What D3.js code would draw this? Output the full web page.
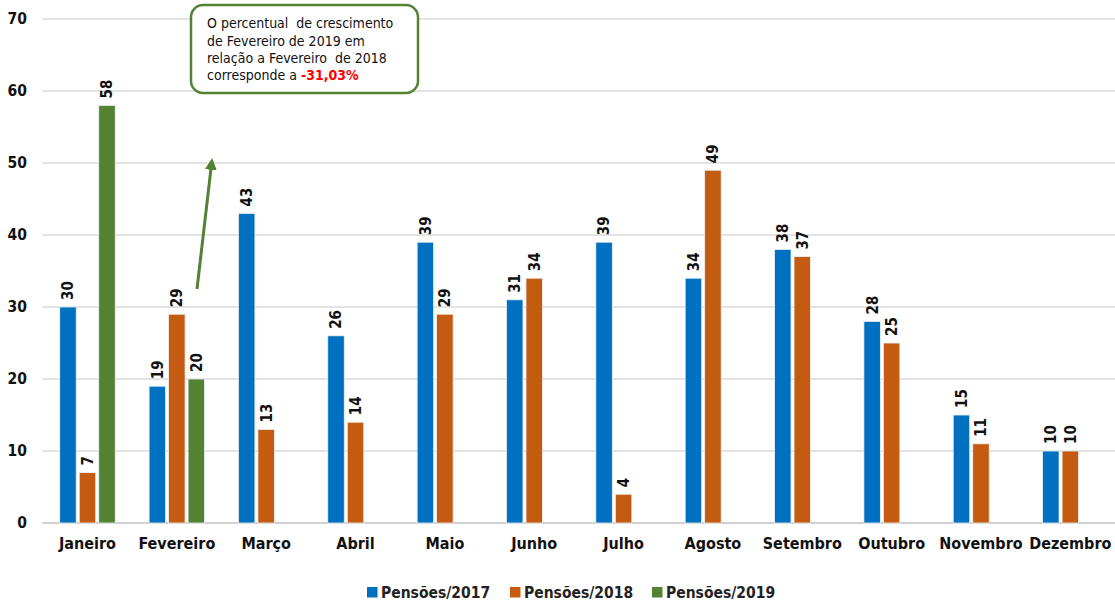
<!DOCTYPE html>
<html><head><meta charset="utf-8">
<script src="https://cdn.jsdelivr.net/npm/d3@7"></script>
<style>
body{margin:0;background:#fff;}
svg{display:block;font-family:"DejaVu Sans Condensed","DejaVu Sans",sans-serif;}
</style></head>
<body>
<svg id="c" width="1115" height="600"></svg>
<script>
const months = ["Janeiro","Fevereiro","Março","Abril","Maio","Junho","Julho","Agosto","Setembro","Outubro","Novembro","Dezembro"];
const seriesNames = ["Pensões/2017","Pensões/2018","Pensões/2019"];
const values2017 = [30,19,43,26,39,31,39,34,38,28,15,10];
const values2018 = [7,29,13,14,29,34,4,49,37,25,11,10];
const values2019 = [58,20,null,null,null,null,null,null,null,null,null,null];
const colors = ["#0070C0","#C55A11","#548235"];
const yTicks = [0,10,20,30,40,50,60,70];
const noteLines = ["O percentual  de crescimento","de Fevereiro de 2019 em","relação a Fevereiro  de 2018"];
const noteLast = "corresponde a ";
const noteValue = "-31,03%";

const svg = d3.select("#c");
const x0 = d3.scaleBand().domain(months).range([42.8,1115]).paddingInner(0).paddingOuter(0);
const y = d3.scaleLinear().domain([0,70]).range([523,19]);
const groupW = 55.5;
const x1 = d3.scaleBand().domain(seriesNames).range([0,groupW]).paddingInner(0.154);
const groupOffset = (x0.bandwidth()-groupW)/2;

// gridlines
svg.append("g").selectAll("line").data(yTicks).join("line")
  .attr("x1",42.3).attr("x2",1115)
  .attr("y1",d=>y(d)).attr("y2",d=>y(d))
  .attr("stroke",d=>d===0?"#d0d0d0":"#dadada").attr("stroke-width",d=>d===0?2:1.3);

// y axis labels
const yAxis = d3.axisLeft(y).tickValues(yTicks).tickSize(0).tickPadding(0);
const ya = svg.append("g").attr("transform","translate(27,0)").call(yAxis);
ya.select(".domain").remove();
ya.selectAll("text").attr("font-size",15.5).attr("font-weight","bold").attr("fill","#111")
  .attr("font-family","'DejaVu Sans Condensed','DejaVu Sans',sans-serif");

// x axis labels
const xAxis = d3.axisBottom(x0).tickSize(0).tickPadding(0);
const xa = svg.append("g").attr("transform","translate(0,537.5)").call(xAxis);
xa.select(".domain").remove();
xa.selectAll("text").attr("font-size",16).attr("font-weight","bold").attr("fill","#111")
  .attr("font-family","'DejaVu Sans Condensed','DejaVu Sans',sans-serif");

const allSeries = [values2017, values2018, values2019];
const data = [];
months.forEach((m,i)=>{
  allSeries.forEach((s,j)=>{
    if(s[i]!==null && s[i]!==undefined) data.push({m, s:seriesNames[j], v:s[i], c:colors[j]});
  });
});

const bars = svg.append("g");
bars.selectAll("rect").data(data).join("rect")
  .attr("x",d=>x0(d.m)+groupOffset+x1(d.s))
  .attr("width",x1.bandwidth())
  .attr("y",d=>y(d.v))
  .attr("height",d=>y(0)-y(d.v))
  .attr("fill",d=>d.c)
  .attr("stroke","#eef2f6").attr("stroke-width",0.8);

bars.selectAll("text").data(data).join("text")
  .attr("transform",d=>{
    const cx = x0(d.m)+groupOffset+x1(d.s)+x1.bandwidth()/2;
    return `translate(${cx},${y(d.v)-7}) rotate(-90)`;
  })
  .attr("dy","0.36em")
  .attr("text-anchor","start")
  .attr("font-size",15).attr("font-weight","bold").attr("fill","#111")
  .text(d=>d.v);

// annotation box
const note = svg.append("g");
note.append("rect").attr("x",191).attr("y",5).attr("width",227).attr("height",88)
  .attr("rx",12).attr("ry",12).attr("fill","#fff").attr("stroke","#548235").attr("stroke-width",2.5);
noteLines.forEach((t,i)=>{
  note.append("text").attr("x",207).attr("y",28.3+i*17.2).attr("font-size",14).attr("fill","#111")
    .style("white-space","pre").text(t);
});
const lt = note.append("text").attr("x",207).attr("y",28.3+3*17.2).attr("font-size",14).attr("fill","#111")
  .style("white-space","pre");
lt.append("tspan").text(noteLast);
lt.append("tspan").attr("fill","#ff0000").attr("font-weight","bold").text(noteValue);

// arrow
const defs = svg.append("defs");
defs.append("marker").attr("id","ah").attr("viewBox","0 0 10 10").attr("refX",7).attr("refY",5)
  .attr("markerWidth",4).attr("markerHeight",4).attr("orient","auto")
  .append("path").attr("d","M0,0 L10,5 L0,10 Z").attr("fill","#548235");
svg.append("line").attr("x1",197).attr("y1",289).attr("x2",211.8).attr("y2",161.5)
  .attr("stroke","#548235").attr("stroke-width",3).attr("marker-end","url(#ah)");

// legend
const legX = [367,510,652];
const leg = svg.append("g");
seriesNames.forEach((n,i)=>{
  leg.append("rect").attr("x",legX[i]).attr("y",587).attr("width",10.5).attr("height",10.5).attr("fill",colors[i]);
  leg.append("text").attr("x",legX[i]+14).attr("y",597.5).attr("font-size",15.5).attr("font-weight","bold")
    .attr("fill","#222").text(n);
});
</script>
</body></html>
